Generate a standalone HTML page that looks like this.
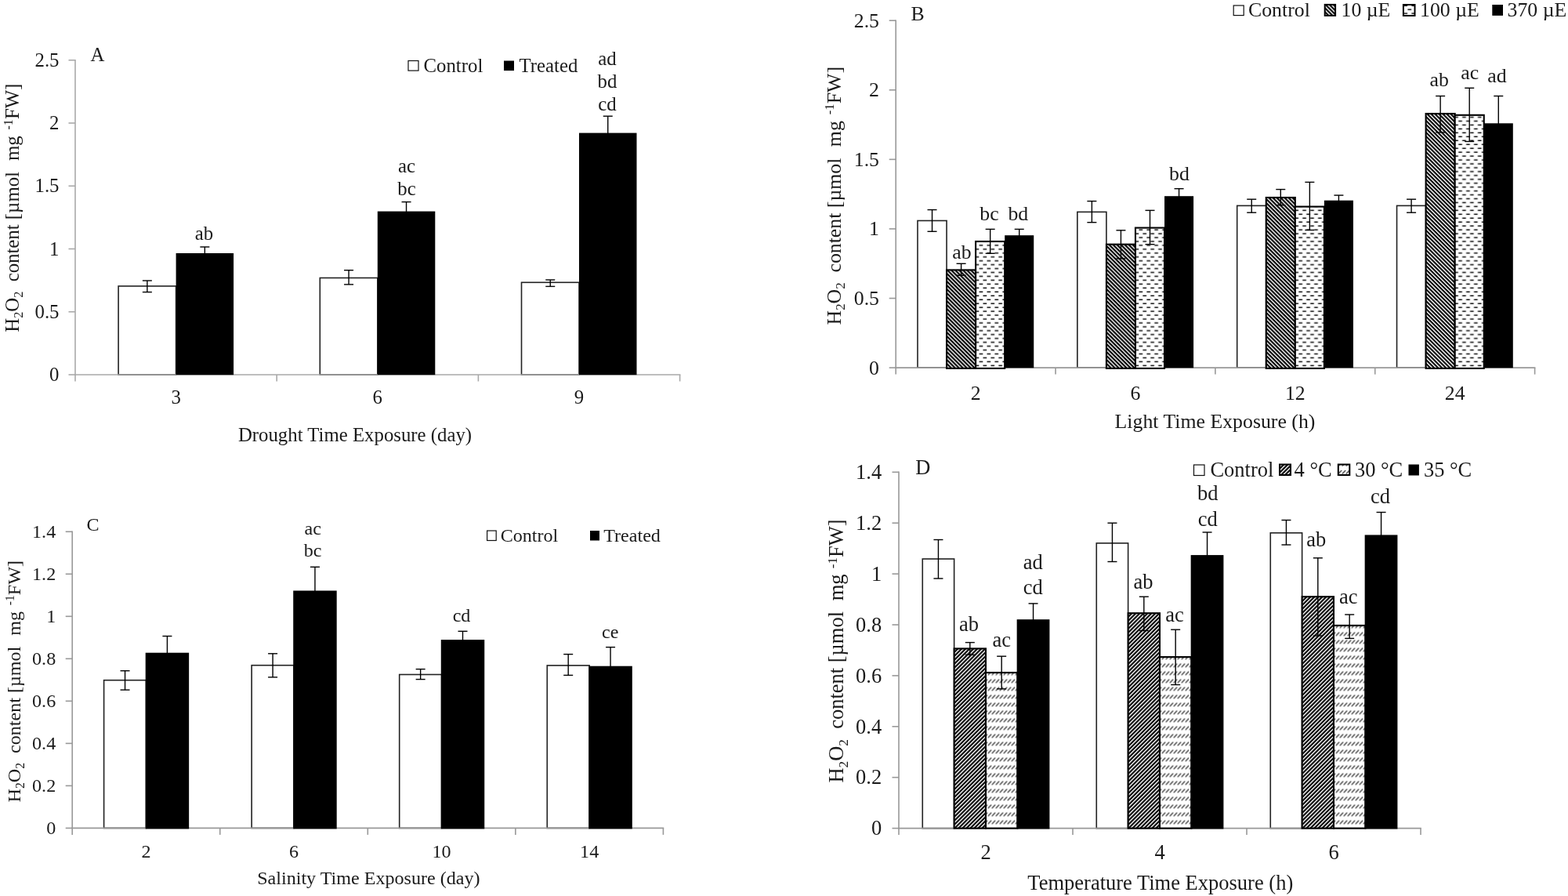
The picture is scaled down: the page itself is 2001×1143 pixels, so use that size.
<!DOCTYPE html>
<html><head><meta charset="utf-8"><title>H2O2 content charts</title>
<style>
html,body{margin:0;padding:0;background:#fff;}
body{width:2001px;height:1143px;overflow:hidden;}
svg{display:block;}
text{font-family:"Liberation Serif", "Times New Roman", serif;fill:#1a1a1a;}
</style></head><body>
<svg width="2001" height="1143" viewBox="0 0 2001 1143">
<rect width="2001" height="1143" fill="#fff"/>
<defs>
<pattern id="hatchB" patternUnits="userSpaceOnUse" x="1.32" width="3.536" height="10" patternTransform="rotate(-45)">
<rect width="3.536" height="10" fill="#000"/><rect x="0" width="1.4" height="10" fill="#fff"/></pattern>
<pattern id="hatchD" patternUnits="userSpaceOnUse" x="1.5" width="3.536" height="10" patternTransform="rotate(45)">
<rect width="3.536" height="10" fill="#000"/><rect x="0" width="1.35" height="10" fill="#fff"/></pattern>
<pattern id="dashB" patternUnits="userSpaceOnUse" width="9.9" height="9.9">
<rect width="9.9" height="9.9" fill="#fff"/><rect x="4.5" y="1.5" width="4.7" height="1.55" fill="#111"/><rect x="0" y="6.45" width="4.2" height="1.55" fill="#111"/><rect x="9.4" y="6.45" width="0.5" height="1.55" fill="#111"/></pattern>
<pattern id="dashD" patternUnits="userSpaceOnUse" x="2.5" y="-3" width="5" height="10">
<rect width="5" height="10" fill="#fff"/><line x1="0.35" y1="7.55" x2="4.65" y2="3.05" stroke="#2a2a2a" stroke-width="1.25"/></pattern>
</defs>
<rect x="151.11" y="365" width="73.49" height="113" fill="#fff" stroke="#222" stroke-width="1.6"/>
<rect x="408.31" y="354.5" width="73.49" height="123.5" fill="#fff" stroke="#222" stroke-width="1.6"/>
<rect x="665.51" y="360.3" width="73.49" height="117.7" fill="#fff" stroke="#222" stroke-width="1.6"/>
<line x1="96" y1="76.05" x2="96" y2="478.7" stroke="#a9a9a9" stroke-width="1.6"/>
<line x1="95.2" y1="478" x2="868.4" y2="478" stroke="#a9a9a9" stroke-width="1.6"/>
<rect x="224.6" y="323" width="73.49" height="155.2" fill="#000"/>
<rect x="481.8" y="269.6" width="73.49" height="208.6" fill="#000"/>
<rect x="739" y="169.6" width="73.49" height="308.6" fill="#000"/>
<line x1="187.86" y1="358" x2="187.86" y2="372.6" stroke="#000" stroke-width="1.4"/>
<line x1="181.86" y1="358" x2="193.86" y2="358" stroke="#000" stroke-width="1.4"/>
<line x1="181.86" y1="372.6" x2="193.86" y2="372.6" stroke="#000" stroke-width="1.4"/>
<line x1="261.34" y1="315" x2="261.34" y2="331" stroke="#000" stroke-width="1.4"/>
<line x1="255.34" y1="315" x2="267.34" y2="315" stroke="#000" stroke-width="1.4"/>
<line x1="255.34" y1="331" x2="267.34" y2="331" stroke="#000" stroke-width="1.4"/>
<line x1="445.06" y1="344.7" x2="445.06" y2="362.9" stroke="#000" stroke-width="1.4"/>
<line x1="439.06" y1="344.7" x2="451.06" y2="344.7" stroke="#000" stroke-width="1.4"/>
<line x1="439.06" y1="362.9" x2="451.06" y2="362.9" stroke="#000" stroke-width="1.4"/>
<line x1="518.54" y1="257.6" x2="518.54" y2="281.6" stroke="#000" stroke-width="1.4"/>
<line x1="512.54" y1="257.6" x2="524.54" y2="257.6" stroke="#000" stroke-width="1.4"/>
<line x1="512.54" y1="281.6" x2="524.54" y2="281.6" stroke="#000" stroke-width="1.4"/>
<line x1="702.26" y1="357" x2="702.26" y2="365.4" stroke="#000" stroke-width="1.4"/>
<line x1="696.26" y1="357" x2="708.26" y2="357" stroke="#000" stroke-width="1.4"/>
<line x1="696.26" y1="365.4" x2="708.26" y2="365.4" stroke="#000" stroke-width="1.4"/>
<line x1="775.74" y1="148.2" x2="775.74" y2="191" stroke="#000" stroke-width="1.4"/>
<line x1="769.74" y1="148.2" x2="781.74" y2="148.2" stroke="#000" stroke-width="1.4"/>
<line x1="769.74" y1="191" x2="781.74" y2="191" stroke="#000" stroke-width="1.4"/>
<line x1="87.5" y1="478" x2="96" y2="478" stroke="#a9a9a9" stroke-width="1.6"/>
<text x="75.5" y="486.18" font-size="24.8" text-anchor="end">0</text>
<line x1="87.5" y1="397.75" x2="96" y2="397.75" stroke="#a9a9a9" stroke-width="1.6"/>
<text x="75.5" y="405.93" font-size="24.8" text-anchor="end">0.5</text>
<line x1="87.5" y1="317.5" x2="96" y2="317.5" stroke="#a9a9a9" stroke-width="1.6"/>
<text x="75.5" y="325.68" font-size="24.8" text-anchor="end">1</text>
<line x1="87.5" y1="237.25" x2="96" y2="237.25" stroke="#a9a9a9" stroke-width="1.6"/>
<text x="75.5" y="245.43" font-size="24.8" text-anchor="end">1.5</text>
<line x1="87.5" y1="157" x2="96" y2="157" stroke="#a9a9a9" stroke-width="1.6"/>
<text x="75.5" y="165.18" font-size="24.8" text-anchor="end">2</text>
<line x1="87.5" y1="76.75" x2="96" y2="76.75" stroke="#a9a9a9" stroke-width="1.6"/>
<text x="75.5" y="84.93" font-size="24.8" text-anchor="end">2.5</text>
<line x1="96" y1="478" x2="96" y2="486.5" stroke="#a9a9a9" stroke-width="1.6"/>
<line x1="353.2" y1="478" x2="353.2" y2="486.5" stroke="#a9a9a9" stroke-width="1.6"/>
<line x1="610.4" y1="478" x2="610.4" y2="486.5" stroke="#a9a9a9" stroke-width="1.6"/>
<line x1="867.6" y1="478" x2="867.6" y2="486.5" stroke="#a9a9a9" stroke-width="1.6"/>
<text x="224.6" y="515" font-size="24.8" text-anchor="middle">3</text>
<text x="481.8" y="515" font-size="24.8" text-anchor="middle">6</text>
<text x="739" y="515" font-size="24.8" text-anchor="middle">9</text>
<text x="453" y="562.6" font-size="24.8" text-anchor="middle">Drought Time Exposure (day)</text>
<text x="115.5" y="77.5" font-size="24.8" text-anchor="start">A</text>
<text x="260.5" y="305.5" font-size="24.8" text-anchor="middle">ab</text>
<text x="519" y="219.8" font-size="24.8" text-anchor="middle">ac</text>
<text x="519" y="249.4" font-size="24.8" text-anchor="middle">bc</text>
<text x="775" y="83" font-size="24.8" text-anchor="middle">ad</text>
<text x="775" y="111.8" font-size="24.8" text-anchor="middle">bd</text>
<text x="775" y="140.7" font-size="24.8" text-anchor="middle">cd</text>
<text transform="translate(23.8,423.7) rotate(-90)" font-size="24.8" style="white-space:pre">H<tspan font-size="16.12" dy="4.96">2</tspan><tspan dy="-4.96">O</tspan><tspan font-size="16.12" dy="4.96">2</tspan><tspan dy="-4.96">  content [µmol</tspan><tspan dx="1.6">  mg </tspan><tspan font-size="16.12" dx="1.6" dy="-8.18">-1</tspan><tspan dy="8.18">FW]</tspan></text>
<rect x="521" y="77.5" width="13" height="12.6" fill="#fff" stroke="#111" stroke-width="1.2"/>
<text x="540.5" y="91.5" font-size="24.8" text-anchor="start">Control</text>
<rect x="643" y="77.5" width="13" height="12.6" fill="#000"/>
<text x="662.5" y="91.5" font-size="24.8" text-anchor="start">Treated</text>
<rect x="1171" y="281.5" width="37.06" height="187.6" fill="#fff" stroke="#222" stroke-width="1.6"/>
<rect x="1374.85" y="270.4" width="37.06" height="198.7" fill="#fff" stroke="#222" stroke-width="1.6"/>
<rect x="1578.7" y="262.4" width="37.06" height="206.7" fill="#fff" stroke="#222" stroke-width="1.6"/>
<rect x="1782.55" y="262.4" width="37.06" height="206.7" fill="#fff" stroke="#222" stroke-width="1.6"/>
<line x1="1143.2" y1="25.5" x2="1143.2" y2="469.8" stroke="#999999" stroke-width="1.6"/>
<line x1="1142.4" y1="469.1" x2="1959.4" y2="469.1" stroke="#999999" stroke-width="1.6"/>
<g transform="translate(1208.06,469.1)"><rect x="0" y="-124.7" width="37.06" height="125.5" fill="url(#hatchB)" stroke="#000" stroke-width="2.1"/></g>
<g transform="translate(1245.12,469.1)"><rect x="0" y="-161.1" width="37.06" height="161.9" fill="url(#dashB)" stroke="#000" stroke-width="2.1"/></g>
<rect x="1282.19" y="300.2" width="37.06" height="169.1" fill="#000"/>
<g transform="translate(1411.91,469.1)"><rect x="0" y="-157.4" width="37.06" height="158.2" fill="url(#hatchB)" stroke="#000" stroke-width="2.1"/></g>
<g transform="translate(1448.97,469.1)"><rect x="0" y="-178.5" width="37.06" height="179.3" fill="url(#dashB)" stroke="#000" stroke-width="2.1"/></g>
<rect x="1486.04" y="250.2" width="37.06" height="219.1" fill="#000"/>
<g transform="translate(1615.76,469.1)"><rect x="0" y="-217.1" width="37.06" height="217.9" fill="url(#hatchB)" stroke="#000" stroke-width="2.1"/></g>
<g transform="translate(1652.82,469.1)"><rect x="0" y="-205.5" width="37.06" height="206.3" fill="url(#dashB)" stroke="#000" stroke-width="2.1"/></g>
<rect x="1689.89" y="255.7" width="37.06" height="213.6" fill="#000"/>
<g transform="translate(1819.61,469.1)"><rect x="0" y="-324.1" width="37.06" height="324.9" fill="url(#hatchB)" stroke="#000" stroke-width="2.1"/></g>
<g transform="translate(1856.68,469.1)"><rect x="0" y="-322.3" width="37.06" height="323.1" fill="url(#dashB)" stroke="#000" stroke-width="2.1"/></g>
<rect x="1893.74" y="157.3" width="37.06" height="312" fill="#000"/>
<line x1="1189.53" y1="267.6" x2="1189.53" y2="295.3" stroke="#000" stroke-width="1.4"/>
<line x1="1183.53" y1="267.6" x2="1195.53" y2="267.6" stroke="#000" stroke-width="1.4"/>
<line x1="1183.53" y1="295.3" x2="1195.53" y2="295.3" stroke="#000" stroke-width="1.4"/>
<line x1="1226.59" y1="336.3" x2="1226.59" y2="351.3" stroke="#000" stroke-width="1.4"/>
<line x1="1220.59" y1="336.3" x2="1232.59" y2="336.3" stroke="#000" stroke-width="1.4"/>
<line x1="1220.59" y1="351.3" x2="1232.59" y2="351.3" stroke="#000" stroke-width="1.4"/>
<line x1="1263.66" y1="292.4" x2="1263.66" y2="323.3" stroke="#000" stroke-width="1.4"/>
<line x1="1257.66" y1="292.4" x2="1269.66" y2="292.4" stroke="#000" stroke-width="1.4"/>
<line x1="1257.66" y1="323.3" x2="1269.66" y2="323.3" stroke="#000" stroke-width="1.4"/>
<line x1="1300.72" y1="292.4" x2="1300.72" y2="308" stroke="#000" stroke-width="1.4"/>
<line x1="1294.72" y1="292.4" x2="1306.72" y2="292.4" stroke="#000" stroke-width="1.4"/>
<line x1="1294.72" y1="308" x2="1306.72" y2="308" stroke="#000" stroke-width="1.4"/>
<line x1="1393.38" y1="256.6" x2="1393.38" y2="283.7" stroke="#000" stroke-width="1.4"/>
<line x1="1387.38" y1="256.6" x2="1399.38" y2="256.6" stroke="#000" stroke-width="1.4"/>
<line x1="1387.38" y1="283.7" x2="1399.38" y2="283.7" stroke="#000" stroke-width="1.4"/>
<line x1="1430.44" y1="293.8" x2="1430.44" y2="329.9" stroke="#000" stroke-width="1.4"/>
<line x1="1424.44" y1="293.8" x2="1436.44" y2="293.8" stroke="#000" stroke-width="1.4"/>
<line x1="1424.44" y1="329.9" x2="1436.44" y2="329.9" stroke="#000" stroke-width="1.4"/>
<line x1="1467.51" y1="268.4" x2="1467.51" y2="311.7" stroke="#000" stroke-width="1.4"/>
<line x1="1461.51" y1="268.4" x2="1473.51" y2="268.4" stroke="#000" stroke-width="1.4"/>
<line x1="1461.51" y1="311.7" x2="1473.51" y2="311.7" stroke="#000" stroke-width="1.4"/>
<line x1="1504.57" y1="240.7" x2="1504.57" y2="259.7" stroke="#000" stroke-width="1.4"/>
<line x1="1498.57" y1="240.7" x2="1510.57" y2="240.7" stroke="#000" stroke-width="1.4"/>
<line x1="1498.57" y1="259.7" x2="1510.57" y2="259.7" stroke="#000" stroke-width="1.4"/>
<line x1="1597.23" y1="254.2" x2="1597.23" y2="271.2" stroke="#000" stroke-width="1.4"/>
<line x1="1591.23" y1="254.2" x2="1603.23" y2="254.2" stroke="#000" stroke-width="1.4"/>
<line x1="1591.23" y1="271.2" x2="1603.23" y2="271.2" stroke="#000" stroke-width="1.4"/>
<line x1="1634.29" y1="241.6" x2="1634.29" y2="261.7" stroke="#000" stroke-width="1.4"/>
<line x1="1628.29" y1="241.6" x2="1640.29" y2="241.6" stroke="#000" stroke-width="1.4"/>
<line x1="1628.29" y1="261.7" x2="1640.29" y2="261.7" stroke="#000" stroke-width="1.4"/>
<line x1="1671.36" y1="232.4" x2="1671.36" y2="293.5" stroke="#000" stroke-width="1.4"/>
<line x1="1665.36" y1="232.4" x2="1677.36" y2="232.4" stroke="#000" stroke-width="1.4"/>
<line x1="1665.36" y1="293.5" x2="1677.36" y2="293.5" stroke="#000" stroke-width="1.4"/>
<line x1="1708.42" y1="249.1" x2="1708.42" y2="262.3" stroke="#000" stroke-width="1.4"/>
<line x1="1702.42" y1="249.1" x2="1714.42" y2="249.1" stroke="#000" stroke-width="1.4"/>
<line x1="1702.42" y1="262.3" x2="1714.42" y2="262.3" stroke="#000" stroke-width="1.4"/>
<line x1="1801.08" y1="254.2" x2="1801.08" y2="271.2" stroke="#000" stroke-width="1.4"/>
<line x1="1795.08" y1="254.2" x2="1807.08" y2="254.2" stroke="#000" stroke-width="1.4"/>
<line x1="1795.08" y1="271.2" x2="1807.08" y2="271.2" stroke="#000" stroke-width="1.4"/>
<line x1="1838.14" y1="122.5" x2="1838.14" y2="168.9" stroke="#000" stroke-width="1.4"/>
<line x1="1832.14" y1="122.5" x2="1844.14" y2="122.5" stroke="#000" stroke-width="1.4"/>
<line x1="1832.14" y1="168.9" x2="1844.14" y2="168.9" stroke="#000" stroke-width="1.4"/>
<line x1="1875.21" y1="112.3" x2="1875.21" y2="180.5" stroke="#000" stroke-width="1.4"/>
<line x1="1869.21" y1="112.3" x2="1881.21" y2="112.3" stroke="#000" stroke-width="1.4"/>
<line x1="1869.21" y1="180.5" x2="1881.21" y2="180.5" stroke="#000" stroke-width="1.4"/>
<line x1="1912.27" y1="122.5" x2="1912.27" y2="192" stroke="#000" stroke-width="1.4"/>
<line x1="1906.27" y1="122.5" x2="1918.27" y2="122.5" stroke="#000" stroke-width="1.4"/>
<line x1="1906.27" y1="192" x2="1918.27" y2="192" stroke="#000" stroke-width="1.4"/>
<line x1="1134.7" y1="469.1" x2="1143.2" y2="469.1" stroke="#999999" stroke-width="1.6"/>
<text x="1122" y="477.61" font-size="25.8" text-anchor="end">0</text>
<line x1="1134.7" y1="380.52" x2="1143.2" y2="380.52" stroke="#999999" stroke-width="1.6"/>
<text x="1122" y="389.03" font-size="25.8" text-anchor="end">0.5</text>
<line x1="1134.7" y1="291.94" x2="1143.2" y2="291.94" stroke="#999999" stroke-width="1.6"/>
<text x="1122" y="300.45" font-size="25.8" text-anchor="end">1</text>
<line x1="1134.7" y1="203.36" x2="1143.2" y2="203.36" stroke="#999999" stroke-width="1.6"/>
<text x="1122" y="211.87" font-size="25.8" text-anchor="end">1.5</text>
<line x1="1134.7" y1="114.78" x2="1143.2" y2="114.78" stroke="#999999" stroke-width="1.6"/>
<text x="1122" y="123.29" font-size="25.8" text-anchor="end">2</text>
<line x1="1134.7" y1="26.2" x2="1143.2" y2="26.2" stroke="#999999" stroke-width="1.6"/>
<text x="1122" y="34.71" font-size="25.8" text-anchor="end">2.5</text>
<line x1="1143.2" y1="469.1" x2="1143.2" y2="477.6" stroke="#999999" stroke-width="1.6"/>
<line x1="1347.05" y1="469.1" x2="1347.05" y2="477.6" stroke="#999999" stroke-width="1.6"/>
<line x1="1550.9" y1="469.1" x2="1550.9" y2="477.6" stroke="#999999" stroke-width="1.6"/>
<line x1="1754.75" y1="469.1" x2="1754.75" y2="477.6" stroke="#999999" stroke-width="1.6"/>
<line x1="1958.6" y1="469.1" x2="1958.6" y2="477.6" stroke="#999999" stroke-width="1.6"/>
<text x="1245.12" y="510.2" font-size="25.8" text-anchor="middle">2</text>
<text x="1448.97" y="510.2" font-size="25.8" text-anchor="middle">6</text>
<text x="1652.83" y="510.2" font-size="25.8" text-anchor="middle">12</text>
<text x="1856.68" y="510.2" font-size="25.8" text-anchor="middle">24</text>
<text x="1550.5" y="545.6" font-size="25.8" text-anchor="middle">Light Time Exposure (h)</text>
<text x="1162.5" y="25.75" font-size="25.8" text-anchor="start">B</text>
<text x="1227.5" y="329.6" font-size="25.8" text-anchor="middle">ab</text>
<text x="1262.5" y="281.4" font-size="25.8" text-anchor="middle">bc</text>
<text x="1299.3" y="281.4" font-size="25.8" text-anchor="middle">bd</text>
<text x="1505" y="230.4" font-size="25.8" text-anchor="middle">bd</text>
<text x="1836.8" y="110.4" font-size="25.8" text-anchor="middle">ab</text>
<text x="1875.7" y="101.3" font-size="25.8" text-anchor="middle">ac</text>
<text x="1910.4" y="104.7" font-size="25.8" text-anchor="middle">ad</text>
<text transform="translate(1072.6,414.5) rotate(-90)" font-size="25.8" style="white-space:pre">H<tspan font-size="16.77" dy="5.16">2</tspan><tspan dy="-5.16">O</tspan><tspan font-size="16.77" dy="5.16">2</tspan><tspan dy="-5.16">  content [µmol</tspan><tspan dx="1.5">  mg </tspan><tspan font-size="16.77" dx="1.5" dy="-8.51">-1</tspan><tspan dy="8.51">FW]</tspan></text>
<rect x="1574.2" y="7" width="13" height="12.6" fill="#fff" stroke="#111" stroke-width="1.2"/>
<text x="1593" y="20.9" font-size="25.8" text-anchor="start">Control</text>
<rect x="1690.7" y="5.9" width="13.4" height="14" fill="url(#hatchB)" stroke="#000" stroke-width="2"/>
<text x="1711.5" y="20.9" font-size="25.8" text-anchor="start">10 µE</text>
<rect x="1790.9" y="6" width="14.6" height="14" fill="url(#dashB)" stroke="#000" stroke-width="2"/>
<text x="1812" y="20.9" font-size="25.8" text-anchor="start">100 µE</text>
<rect x="1904.3" y="6" width="13.7" height="13.9" fill="#000"/>
<text x="1923.5" y="20.9" font-size="25.8" text-anchor="start">370 µE</text>
<rect x="132.6" y="867.7" width="53.87" height="188.7" fill="#fff" stroke="#222" stroke-width="1.6"/>
<rect x="321.15" y="848.7" width="53.87" height="207.7" fill="#fff" stroke="#222" stroke-width="1.6"/>
<rect x="509.7" y="860.5" width="53.87" height="195.9" fill="#fff" stroke="#222" stroke-width="1.6"/>
<rect x="698.25" y="848.9" width="53.87" height="207.5" fill="#fff" stroke="#222" stroke-width="1.6"/>
<line x1="92.2" y1="677.56" x2="92.2" y2="1057.1" stroke="#999999" stroke-width="1.6"/>
<line x1="91.4" y1="1056.4" x2="847.2" y2="1056.4" stroke="#999999" stroke-width="1.6"/>
<rect x="186.48" y="833.5" width="53.87" height="223.1" fill="#000" stroke="#000" stroke-width="1.6"/>
<rect x="375.03" y="754.3" width="53.87" height="302.3" fill="#000" stroke="#000" stroke-width="1.6"/>
<rect x="563.58" y="816.9" width="53.87" height="239.7" fill="#000" stroke="#000" stroke-width="1.6"/>
<rect x="752.13" y="850.5" width="53.87" height="206.1" fill="#000" stroke="#000" stroke-width="1.6"/>
<line x1="159.54" y1="855.7" x2="159.54" y2="880.1" stroke="#000" stroke-width="1.4"/>
<line x1="153.54" y1="855.7" x2="165.54" y2="855.7" stroke="#000" stroke-width="1.4"/>
<line x1="153.54" y1="880.1" x2="165.54" y2="880.1" stroke="#000" stroke-width="1.4"/>
<line x1="213.41" y1="811.5" x2="213.41" y2="853" stroke="#000" stroke-width="1.4"/>
<line x1="207.41" y1="811.5" x2="219.41" y2="811.5" stroke="#000" stroke-width="1.4"/>
<line x1="207.41" y1="853" x2="219.41" y2="853" stroke="#000" stroke-width="1.4"/>
<line x1="348.09" y1="833.8" x2="348.09" y2="863.9" stroke="#000" stroke-width="1.4"/>
<line x1="342.09" y1="833.8" x2="354.09" y2="833.8" stroke="#000" stroke-width="1.4"/>
<line x1="342.09" y1="863.9" x2="354.09" y2="863.9" stroke="#000" stroke-width="1.4"/>
<line x1="401.96" y1="723.3" x2="401.96" y2="783.7" stroke="#000" stroke-width="1.4"/>
<line x1="395.96" y1="723.3" x2="407.96" y2="723.3" stroke="#000" stroke-width="1.4"/>
<line x1="395.96" y1="783.7" x2="407.96" y2="783.7" stroke="#000" stroke-width="1.4"/>
<line x1="536.64" y1="853.6" x2="536.64" y2="866.6" stroke="#000" stroke-width="1.4"/>
<line x1="530.64" y1="853.6" x2="542.64" y2="853.6" stroke="#000" stroke-width="1.4"/>
<line x1="530.64" y1="866.6" x2="542.64" y2="866.6" stroke="#000" stroke-width="1.4"/>
<line x1="590.51" y1="805.3" x2="590.51" y2="826.9" stroke="#000" stroke-width="1.4"/>
<line x1="584.51" y1="805.3" x2="596.51" y2="805.3" stroke="#000" stroke-width="1.4"/>
<line x1="584.51" y1="826.9" x2="596.51" y2="826.9" stroke="#000" stroke-width="1.4"/>
<line x1="725.19" y1="834.6" x2="725.19" y2="861.4" stroke="#000" stroke-width="1.4"/>
<line x1="719.19" y1="834.6" x2="731.19" y2="834.6" stroke="#000" stroke-width="1.4"/>
<line x1="719.19" y1="861.4" x2="731.19" y2="861.4" stroke="#000" stroke-width="1.4"/>
<line x1="779.06" y1="825.6" x2="779.06" y2="873.8" stroke="#000" stroke-width="1.4"/>
<line x1="773.06" y1="825.6" x2="785.06" y2="825.6" stroke="#000" stroke-width="1.4"/>
<line x1="773.06" y1="873.8" x2="785.06" y2="873.8" stroke="#000" stroke-width="1.4"/>
<line x1="83.7" y1="1056.4" x2="92.2" y2="1056.4" stroke="#999999" stroke-width="1.6"/>
<text x="71.2" y="1064.35" font-size="24.1" text-anchor="end">0</text>
<line x1="83.7" y1="1002.38" x2="92.2" y2="1002.38" stroke="#999999" stroke-width="1.6"/>
<text x="71.2" y="1010.33" font-size="24.1" text-anchor="end">0.2</text>
<line x1="83.7" y1="948.36" x2="92.2" y2="948.36" stroke="#999999" stroke-width="1.6"/>
<text x="71.2" y="956.31" font-size="24.1" text-anchor="end">0.4</text>
<line x1="83.7" y1="894.34" x2="92.2" y2="894.34" stroke="#999999" stroke-width="1.6"/>
<text x="71.2" y="902.29" font-size="24.1" text-anchor="end">0.6</text>
<line x1="83.7" y1="840.32" x2="92.2" y2="840.32" stroke="#999999" stroke-width="1.6"/>
<text x="71.2" y="848.27" font-size="24.1" text-anchor="end">0.8</text>
<line x1="83.7" y1="786.3" x2="92.2" y2="786.3" stroke="#999999" stroke-width="1.6"/>
<text x="71.2" y="794.25" font-size="24.1" text-anchor="end">1</text>
<line x1="83.7" y1="732.28" x2="92.2" y2="732.28" stroke="#999999" stroke-width="1.6"/>
<text x="71.2" y="740.23" font-size="24.1" text-anchor="end">1.2</text>
<line x1="83.7" y1="678.26" x2="92.2" y2="678.26" stroke="#999999" stroke-width="1.6"/>
<text x="71.2" y="686.21" font-size="24.1" text-anchor="end">1.4</text>
<line x1="92.2" y1="1056.4" x2="92.2" y2="1064.9" stroke="#999999" stroke-width="1.6"/>
<line x1="280.75" y1="1056.4" x2="280.75" y2="1064.9" stroke="#999999" stroke-width="1.6"/>
<line x1="469.3" y1="1056.4" x2="469.3" y2="1064.9" stroke="#999999" stroke-width="1.6"/>
<line x1="657.85" y1="1056.4" x2="657.85" y2="1064.9" stroke="#999999" stroke-width="1.6"/>
<line x1="846.4" y1="1056.4" x2="846.4" y2="1064.9" stroke="#999999" stroke-width="1.6"/>
<text x="186.48" y="1093.5" font-size="24.1" text-anchor="middle">2</text>
<text x="375.03" y="1093.5" font-size="24.1" text-anchor="middle">6</text>
<text x="563.58" y="1093.5" font-size="24.1" text-anchor="middle">10</text>
<text x="752.13" y="1093.5" font-size="24.1" text-anchor="middle">14</text>
<text x="470.4" y="1127.9" font-size="24.1" text-anchor="middle">Salinity Time Exposure (day)</text>
<text x="110.5" y="677.1" font-size="24.1" text-anchor="start">C</text>
<text x="399.2" y="681.7" font-size="24.1" text-anchor="middle">ac</text>
<text x="399.2" y="710.3" font-size="24.1" text-anchor="middle">bc</text>
<text x="589" y="793.2" font-size="24.1" text-anchor="middle">cd</text>
<text x="778.8" y="814" font-size="24.1" text-anchor="middle">ce</text>
<text transform="translate(26,1023.5) rotate(-90)" font-size="24.1" style="white-space:pre">H<tspan font-size="15.67" dy="4.82">2</tspan><tspan dy="-4.82">O</tspan><tspan font-size="15.67" dy="4.82">2</tspan><tspan dy="-4.82">  content [µmol</tspan><tspan dx="1.8">  mg </tspan><tspan font-size="15.67" dx="1.8" dy="-7.95">-1</tspan><tspan dy="7.95">FW]</tspan></text>
<rect x="621.6" y="677" width="11.6" height="12.5" fill="#fff" stroke="#111" stroke-width="1.2"/>
<text x="638.7" y="691" font-size="24.1" text-anchor="start">Control</text>
<rect x="753" y="677" width="12" height="12.5" fill="#000"/>
<text x="770.2" y="691" font-size="24.1" text-anchor="start">Treated</text>
<rect x="1177.27" y="713" width="40.36" height="343.6" fill="#fff" stroke="#222" stroke-width="1.6"/>
<rect x="1399.27" y="692.9" width="40.36" height="363.7" fill="#fff" stroke="#222" stroke-width="1.6"/>
<rect x="1621.27" y="679.8" width="40.36" height="376.8" fill="#fff" stroke="#222" stroke-width="1.6"/>
<line x1="1147" y1="601.6" x2="1147" y2="1057.3" stroke="#999999" stroke-width="1.6"/>
<line x1="1146.2" y1="1056.6" x2="1813.8" y2="1056.6" stroke="#999999" stroke-width="1.6"/>
<g transform="translate(1217.64,1056.6)"><rect x="0" y="-229.2" width="40.36" height="229.2" fill="url(#hatchD)" stroke="#000" stroke-width="2.1"/></g>
<g transform="translate(1258,1056.6)"><rect x="0" y="-198.6" width="40.36" height="198.6" fill="url(#dashD)" stroke="#000" stroke-width="2.1"/></g>
<rect x="1298.36" y="790.9" width="40.36" height="265.9" fill="#000" stroke="#000" stroke-width="1.4"/>
<g transform="translate(1439.64,1056.6)"><rect x="0" y="-274.4" width="40.36" height="274.4" fill="url(#hatchD)" stroke="#000" stroke-width="2.1"/></g>
<g transform="translate(1480,1056.6)"><rect x="0" y="-218.5" width="40.36" height="218.5" fill="url(#dashD)" stroke="#000" stroke-width="2.1"/></g>
<rect x="1520.36" y="708.8" width="40.36" height="348" fill="#000" stroke="#000" stroke-width="1.4"/>
<g transform="translate(1661.64,1056.6)"><rect x="0" y="-295.4" width="40.36" height="295.4" fill="url(#hatchD)" stroke="#000" stroke-width="2.1"/></g>
<g transform="translate(1702,1056.6)"><rect x="0" y="-258.7" width="40.36" height="258.7" fill="url(#dashD)" stroke="#000" stroke-width="2.1"/></g>
<rect x="1742.36" y="683.1" width="40.36" height="373.7" fill="#000" stroke="#000" stroke-width="1.4"/>
<line x1="1197.45" y1="688.5" x2="1197.45" y2="738" stroke="#000" stroke-width="1.4"/>
<line x1="1191.45" y1="688.5" x2="1203.45" y2="688.5" stroke="#000" stroke-width="1.4"/>
<line x1="1191.45" y1="738" x2="1203.45" y2="738" stroke="#000" stroke-width="1.4"/>
<line x1="1237.82" y1="819.6" x2="1237.82" y2="835.3" stroke="#000" stroke-width="1.4"/>
<line x1="1231.82" y1="819.6" x2="1243.82" y2="819.6" stroke="#000" stroke-width="1.4"/>
<line x1="1231.82" y1="835.3" x2="1243.82" y2="835.3" stroke="#000" stroke-width="1.4"/>
<line x1="1278.18" y1="837.2" x2="1278.18" y2="878.8" stroke="#000" stroke-width="1.4"/>
<line x1="1272.18" y1="837.2" x2="1284.18" y2="837.2" stroke="#000" stroke-width="1.4"/>
<line x1="1272.18" y1="878.8" x2="1284.18" y2="878.8" stroke="#000" stroke-width="1.4"/>
<line x1="1318.55" y1="769.9" x2="1318.55" y2="810.5" stroke="#000" stroke-width="1.4"/>
<line x1="1312.55" y1="769.9" x2="1324.55" y2="769.9" stroke="#000" stroke-width="1.4"/>
<line x1="1312.55" y1="810.5" x2="1324.55" y2="810.5" stroke="#000" stroke-width="1.4"/>
<line x1="1419.45" y1="667.2" x2="1419.45" y2="716.5" stroke="#000" stroke-width="1.4"/>
<line x1="1413.45" y1="667.2" x2="1425.45" y2="667.2" stroke="#000" stroke-width="1.4"/>
<line x1="1413.45" y1="716.5" x2="1425.45" y2="716.5" stroke="#000" stroke-width="1.4"/>
<line x1="1459.82" y1="761.2" x2="1459.82" y2="804.5" stroke="#000" stroke-width="1.4"/>
<line x1="1453.82" y1="761.2" x2="1465.82" y2="761.2" stroke="#000" stroke-width="1.4"/>
<line x1="1453.82" y1="804.5" x2="1465.82" y2="804.5" stroke="#000" stroke-width="1.4"/>
<line x1="1500.18" y1="803.2" x2="1500.18" y2="873.5" stroke="#000" stroke-width="1.4"/>
<line x1="1494.18" y1="803.2" x2="1506.18" y2="803.2" stroke="#000" stroke-width="1.4"/>
<line x1="1494.18" y1="873.5" x2="1506.18" y2="873.5" stroke="#000" stroke-width="1.4"/>
<line x1="1540.55" y1="679" x2="1540.55" y2="737.2" stroke="#000" stroke-width="1.4"/>
<line x1="1534.55" y1="679" x2="1546.55" y2="679" stroke="#000" stroke-width="1.4"/>
<line x1="1534.55" y1="737.2" x2="1546.55" y2="737.2" stroke="#000" stroke-width="1.4"/>
<line x1="1641.45" y1="663.5" x2="1641.45" y2="695" stroke="#000" stroke-width="1.4"/>
<line x1="1635.45" y1="663.5" x2="1647.45" y2="663.5" stroke="#000" stroke-width="1.4"/>
<line x1="1635.45" y1="695" x2="1647.45" y2="695" stroke="#000" stroke-width="1.4"/>
<line x1="1681.82" y1="711.8" x2="1681.82" y2="811" stroke="#000" stroke-width="1.4"/>
<line x1="1675.82" y1="711.8" x2="1687.82" y2="711.8" stroke="#000" stroke-width="1.4"/>
<line x1="1675.82" y1="811" x2="1687.82" y2="811" stroke="#000" stroke-width="1.4"/>
<line x1="1722.18" y1="784" x2="1722.18" y2="814.4" stroke="#000" stroke-width="1.4"/>
<line x1="1716.18" y1="784" x2="1728.18" y2="784" stroke="#000" stroke-width="1.4"/>
<line x1="1716.18" y1="814.4" x2="1728.18" y2="814.4" stroke="#000" stroke-width="1.4"/>
<line x1="1762.55" y1="653.5" x2="1762.55" y2="711.3" stroke="#000" stroke-width="1.4"/>
<line x1="1756.55" y1="653.5" x2="1768.55" y2="653.5" stroke="#000" stroke-width="1.4"/>
<line x1="1756.55" y1="711.3" x2="1768.55" y2="711.3" stroke="#000" stroke-width="1.4"/>
<line x1="1138.5" y1="1056.6" x2="1147" y2="1056.6" stroke="#999999" stroke-width="1.6"/>
<text x="1125.2" y="1065.34" font-size="26.5" text-anchor="end">0</text>
<line x1="1138.5" y1="991.7" x2="1147" y2="991.7" stroke="#999999" stroke-width="1.6"/>
<text x="1125.2" y="1000.44" font-size="26.5" text-anchor="end">0.2</text>
<line x1="1138.5" y1="926.8" x2="1147" y2="926.8" stroke="#999999" stroke-width="1.6"/>
<text x="1125.2" y="935.54" font-size="26.5" text-anchor="end">0.4</text>
<line x1="1138.5" y1="861.9" x2="1147" y2="861.9" stroke="#999999" stroke-width="1.6"/>
<text x="1125.2" y="870.64" font-size="26.5" text-anchor="end">0.6</text>
<line x1="1138.5" y1="797" x2="1147" y2="797" stroke="#999999" stroke-width="1.6"/>
<text x="1125.2" y="805.74" font-size="26.5" text-anchor="end">0.8</text>
<line x1="1138.5" y1="732.1" x2="1147" y2="732.1" stroke="#999999" stroke-width="1.6"/>
<text x="1125.2" y="740.84" font-size="26.5" text-anchor="end">1</text>
<line x1="1138.5" y1="667.2" x2="1147" y2="667.2" stroke="#999999" stroke-width="1.6"/>
<text x="1125.2" y="675.94" font-size="26.5" text-anchor="end">1.2</text>
<line x1="1138.5" y1="602.3" x2="1147" y2="602.3" stroke="#999999" stroke-width="1.6"/>
<text x="1125.2" y="611.04" font-size="26.5" text-anchor="end">1.4</text>
<line x1="1147" y1="1056.6" x2="1147" y2="1065.1" stroke="#999999" stroke-width="1.6"/>
<line x1="1369" y1="1056.6" x2="1369" y2="1065.1" stroke="#999999" stroke-width="1.6"/>
<line x1="1591" y1="1056.6" x2="1591" y2="1065.1" stroke="#999999" stroke-width="1.6"/>
<line x1="1813" y1="1056.6" x2="1813" y2="1065.1" stroke="#999999" stroke-width="1.6"/>
<text x="1258" y="1096.1" font-size="26.5" text-anchor="middle">2</text>
<text x="1480" y="1096.1" font-size="26.5" text-anchor="middle">4</text>
<text x="1702" y="1096.1" font-size="26.5" text-anchor="middle">6</text>
<text x="1480.8" y="1134.7" font-size="26.5" text-anchor="middle">Temperature Time Exposure (h)</text>
<text x="1168.3" y="604.5" font-size="26.5" text-anchor="start">D</text>
<text x="1236.6" y="804.9" font-size="26.5" text-anchor="middle">ab</text>
<text x="1278.2" y="824.5" font-size="26.5" text-anchor="middle">ac</text>
<text x="1318.3" y="725.8" font-size="26.5" text-anchor="middle">ad</text>
<text x="1318.3" y="757.6" font-size="26.5" text-anchor="middle">cd</text>
<text x="1459.1" y="750.5" font-size="26.5" text-anchor="middle">ab</text>
<text x="1499.1" y="793.3" font-size="26.5" text-anchor="middle">ac</text>
<text x="1541.2" y="637.8" font-size="26.5" text-anchor="middle">bd</text>
<text x="1541.2" y="670.6" font-size="26.5" text-anchor="middle">cd</text>
<text x="1679.7" y="696.8" font-size="26.5" text-anchor="middle">ab</text>
<text x="1720.8" y="770.3" font-size="26.5" text-anchor="middle">ac</text>
<text x="1761.5" y="641.7" font-size="26.5" text-anchor="middle">cd</text>
<text transform="translate(1076.3,998.6) rotate(-90)" font-size="26.5" style="white-space:pre">H<tspan font-size="17.23" dy="5.3">2</tspan><tspan dy="-5.3">O</tspan><tspan font-size="17.23" dy="5.3">2</tspan><tspan dy="-5.3">  content [µmol</tspan><tspan dx="0.4">  mg </tspan><tspan font-size="17.23" dx="0.4" dy="-8.75">-1</tspan><tspan dy="8.75">FW]</tspan></text>
<rect x="1523.5" y="593" width="13.5" height="13.5" fill="#fff" stroke="#111" stroke-width="1.2"/>
<text x="1544.4" y="607.6" font-size="26.5" text-anchor="start">Control</text>
<rect x="1633" y="592.5" width="14" height="13.5" fill="url(#hatchD)" stroke="#000" stroke-width="2"/>
<text x="1651.5" y="607.6" font-size="26.5" text-anchor="start">4 °C</text>
<rect x="1707.8" y="592.5" width="14.5" height="13.5" fill="url(#dashD)" stroke="#000" stroke-width="2"/>
<text x="1728.9" y="607.6" font-size="26.5" text-anchor="start">30 °C</text>
<rect x="1797.5" y="592.5" width="13.4" height="14" fill="#000"/>
<text x="1816.9" y="607.6" font-size="26.5" text-anchor="start">35 °C</text>
</svg>
</body></html>
